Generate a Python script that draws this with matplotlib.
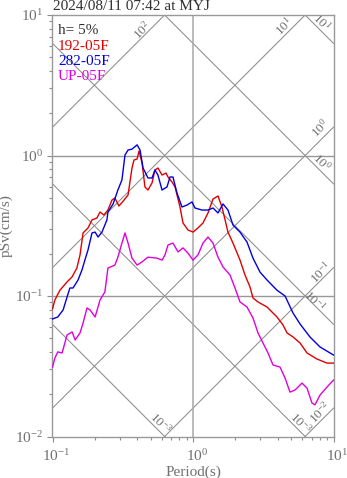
import numpy as np
import matplotlib

matplotlib.use("Agg")
import matplotlib.pyplot as plt  # noqa: E402
from matplotlib.ticker import FixedLocator, LogLocator, NullFormatter  # noqa: E402
from matplotlib.transforms import ScaledTranslation  # noqa: E402

plt.rcParams["font.family"] = ["Liberation Serif", "DejaVu Serif"]
plt.rcParams["mathtext.fontset"] = "custom"
plt.rcParams["mathtext.rm"] = "Liberation Serif"
plt.rcParams["mathtext.it"] = "Liberation Serif:italic"

title = "2024/08/11 07:42 at MYJ"
damping = "h= 5%"

# pseudo-velocity response spectra, period (s) vs pSv (cm/s)
ns_period = [0.100, 0.104, 0.113, 0.127, 0.138, 0.149, 0.157, 0.165, 0.179, 0.191,
             0.207, 0.218, 0.232, 0.248, 0.265, 0.278, 0.297, 0.323, 0.345, 0.368,
             0.380, 0.400, 0.413, 0.434, 0.455, 0.478, 0.511, 0.536, 0.563, 0.602,
             0.643, 0.664, 0.709, 0.745, 0.808, 0.849, 0.921, 1.000, 1.085, 1.178,
             1.279, 1.388, 1.506, 1.608, 1.774, 1.926, 2.161, 2.345, 2.545, 2.673,
             2.901, 3.363, 3.96, 4.37, 4.67, 5.15, 5.78, 6.48, 7.63, 8.99, 10.0]
ns_psv = [0.081, 0.0937, 0.110, 0.126, 0.137, 0.158, 0.196, 0.281, 0.305, 0.348,
          0.359, 0.396, 0.377, 0.409, 0.482, 0.498, 0.437, 0.482, 0.524, 0.815,
          0.929, 0.944, 1.077, 0.884, 0.597, 0.568, 0.638, 0.789, 0.815, 0.726,
          0.750, 0.703, 0.648, 0.597, 0.430, 0.331, 0.295, 0.285, 0.305, 0.331,
          0.390, 0.490, 0.515, 0.430, 0.285, 0.238, 0.180, 0.141, 0.116, 0.0968,
          0.0907, 0.0835, 0.0709, 0.0622, 0.0546, 0.0511, 0.0463, 0.0393, 0.0356,
          0.0333, 0.0333]

ew_period = [0.100, 0.109, 0.119, 0.127, 0.133, 0.140, 0.152, 0.162, 0.170, 0.179,
             0.191, 0.201, 0.211, 0.225, 0.244, 0.248, 0.270, 0.292, 0.312, 0.328,
             0.345, 0.368, 0.400, 0.420, 0.441, 0.478, 0.511, 0.536, 0.563, 0.602,
             0.653, 0.686, 0.720, 0.769, 0.835, 0.906, 0.984, 1.033, 1.159, 1.279,
             1.388, 1.506, 1.635, 1.774, 1.926, 2.161, 2.423, 2.673, 2.998, 3.363,
             3.96, 4.52, 5.15, 5.78, 6.80, 8.01, 10.0]
ew_psv = [0.0686, 0.0709, 0.0796, 0.0984, 0.114, 0.114, 0.130, 0.153, 0.180, 0.213,
          0.281, 0.285, 0.263, 0.285, 0.348, 0.396, 0.452, 0.568, 0.670, 1.008,
          1.094, 1.11, 1.19, 1.094, 0.815, 0.692, 0.692, 0.789, 0.726, 0.568,
          0.597, 0.703, 0.703, 0.541, 0.430, 0.444, 0.467, 0.423, 0.409, 0.409,
          0.423, 0.390, 0.452, 0.409, 0.320, 0.285, 0.242, 0.186, 0.148, 0.130,
          0.110, 0.100, 0.0757, 0.0632, 0.0511, 0.0434, 0.0380]

ud_period = [0.100, 0.104, 0.109, 0.117, 0.127, 0.138, 0.145, 0.157, 0.165, 0.176,
             0.185, 0.201, 0.218, 0.236, 0.248, 0.278, 0.292, 0.312, 0.328, 0.345,
             0.368, 0.400, 0.434, 0.478, 0.554, 0.602, 0.632, 0.664, 0.720, 0.782,
             0.849, 0.921, 1.000, 1.085, 1.178, 1.279, 1.388, 1.506, 1.635, 1.834,
             1.991, 2.161, 2.423, 2.673, 2.901, 3.149, 3.419, 3.71, 4.16, 4.52,
             4.90, 5.32, 5.97, 6.48, 7.03, 7.38, 8.01, 8.99, 10.0]
ud_psv = [0.0312, 0.0362, 0.0400, 0.0393, 0.0528, 0.0555, 0.0486, 0.0546, 0.0642, 0.0822,
          0.0796, 0.0709, 0.0937, 0.107, 0.158, 0.166, 0.189, 0.238, 0.281, 0.238,
          0.186, 0.166, 0.175, 0.189, 0.186, 0.180, 0.196, 0.231, 0.238, 0.206,
          0.220, 0.202, 0.180, 0.196, 0.238, 0.263, 0.238, 0.189, 0.161, 0.141,
          0.114, 0.0907, 0.0835, 0.0697, 0.0546, 0.0463, 0.0393, 0.0323, 0.0312, 0.0261,
          0.0207, 0.0214, 0.0240, 0.0221, 0.0173, 0.0168, 0.0197, 0.0225, 0.0252]

components = [
    ("192-05F", ns_period, ns_psv, "#e00000"),
    ("282-05F", ew_period, ew_psv, "#0000e0"),
    ("UP-05F", ud_period, ud_psv, "#e000e0"),
]

# tripartite guide lines: acceleration (cm/s^2) and displacement (cm)
accel_levels = [1e-2, 1e-1, 1e0, 1e1, 1e2]
disp_levels = [1e-3, 1e-2, 1e-1, 1e0, 1e1]

# labels at the line ends: (text, period, pSv, rotation)
guide_labels = [
    (r"$10^{2}$", 0.434, 7.82, 45),
    (r"$10^{1}$", 4.44, 8.35, 45),
    (r"$10^{1}$", 8.21, 8.84, -45),
    (r"$10^{0}$", 8.01, 1.57, 45),
    (r"$10^{0}$", 8.28, 0.899, -45),
    (r"$10^{-1}$", 8.10, 0.146, 45),
    (r"$10^{-1}$", 7.27, 0.0921, -45),
    (r"$10^{-2}$", 8.01, 0.0149, 45),
    (r"$10^{-3}$", 5.78, 0.0125, -45),
    (r"$10^{-3}$", 0.592, 0.0125, -45),
]

GREY_TEXT = "#707070"
GREY_LINE = "#8c8c8c"

fig = plt.figure(figsize=(3.47, 4.78), dpi=100)
ax = fig.add_axes([52.5 / 347, 41.5 / 478, 281 / 347, 421.5 / 478])
ax.set_xscale("log")
ax.set_yscale("log")
ax.set_xlim(0.1, 10)
ax.set_ylim(0.01, 10)

span = np.array([0.1, 10.0])
for sa in accel_levels:
    ax.plot(span, sa * span / (2 * np.pi), color=GREY_LINE, lw=0.75, zorder=1)
for sd in disp_levels:
    ax.plot(span, 2 * np.pi * sd / span, color=GREY_LINE, lw=0.75, zorder=1)

for text, t, v, rot in guide_labels:
    ax.text(t, v, text, rotation=rot, ha="center", va="center",
            rotation_mode="anchor", fontsize=9.5, color=GREY_TEXT, zorder=2)

ax.axvline(1.0, color="#a8a8a8", lw=1.1, zorder=1)
for level in (1.0, 0.1):
    ax.axhline(level, color="#989898", lw=1.0, zorder=1)

for name, period, psv, colour in components:
    ax.plot(period, psv, color=colour, lw=1.0, zorder=3)

# damping and component names in the upper left corner
ax.text(0.02, 0.954, damping, transform=ax.transAxes,
        fontsize=11, color="#303030", va="baseline")
for i, (name, _, _, colour) in enumerate(components):
    ax.text(0.02, 0.918 - 0.0356 * i, name, transform=ax.transAxes,
            fontsize=11, color=colour, va="baseline")

fig.text(53 / 347, 1 - 10.5 / 478, title, fontsize=11, color="#303030",
         ha="left", va="baseline")

ax.set_xlabel("Period(s)", fontsize=11, color=GREY_TEXT, labelpad=1)
ax.set_ylabel("pSv(cm/s)", fontsize=11, color=GREY_TEXT, labelpad=2)

ax.xaxis.set_major_locator(FixedLocator([0.1, 1.0, 10.0]))
ax.yaxis.set_major_locator(FixedLocator([0.01, 0.1, 1.0, 10.0]))
ax.xaxis.set_minor_locator(LogLocator(base=10, subs=np.arange(2, 10)))
ax.yaxis.set_minor_locator(LogLocator(base=10, subs=np.arange(2, 10)))
ax.xaxis.set_minor_formatter(NullFormatter())
ax.yaxis.set_minor_formatter(NullFormatter())
ax.tick_params(which="both", direction="out", color=GREY_LINE, width=0.8,
               labelcolor=GREY_TEXT, labelsize=11)
ax.tick_params(which="major", length=3.5, pad=3)
ax.tick_params(which="minor", length=2.5)
ax.tick_params(axis="x", which="major", pad=5)

for spine in ax.spines.values():
    spine.set_color("#999999")
    spine.set_linewidth(1.0)

# the exponent hangs to the right, so centre the base "10" under each tick
shift = ScaledTranslation(4 / 100, 0, fig.dpi_scale_trans)
for label in ax.get_xticklabels():
    label.set_transform(label.get_transform() + shift)

fig.savefig("out.png", dpi=100)
plt.close(fig)
